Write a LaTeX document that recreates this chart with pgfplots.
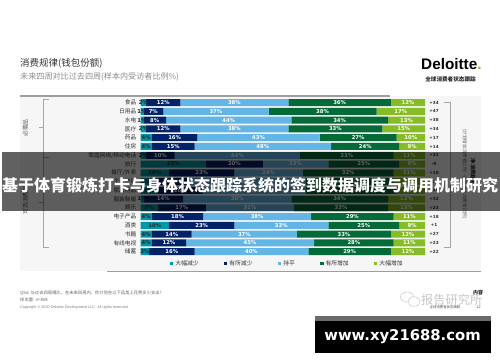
\documentclass[border=0pt]{standalone}
\usepackage{fontspec}
\usepackage{pgfplots}
\usepackage{pgfplotstable}
\pgfplotsset{compat=1.18}
\setmainfont{Noto Sans CJK SC}
\newfontfamily\num{DejaVu Sans}
\newfontfamily\lib{Liberation Sans}
\definecolor{c1}{HTML}{0097A9}
\definecolor{c2}{HTML}{012169}
\definecolor{c3}{HTML}{62B5E5}
\definecolor{c4}{HTML}{046A38}
\definecolor{c5}{HTML}{86BC25}
\definecolor{panel}{HTML}{F6F6F6}
\newcommand{\fs}[1]{\fontsize{#1}{#1}\selectfont}
\pgfplotstableread{
row a b c d e
0 2 12 38 36 12
1 1 7 37 38 17
2 1 8 44 34 13
3 2 12 38 33 15
4 4 16 43 27 10
5 4 15 48 24 9
6 2 10 44 33 11
7 23 20 23 25 9
8 10 23 24 32 11
9 3 14 41 31 11
10 6 16 36 32 10
11 1 14 38 34 13
12 6 17 31 33 13
13 4 18 38 29 11
14 10 23 33 25 9
15 4 14 37 33 12
16 4 12 45 28 11
17 3 16 40 29 12
}\datatable
\begin{document}
\begin{tikzpicture}[x=1pt,y=1pt]
\path[use as bounding box,fill=white] (0,0) rectangle (500,362);
% panel
\fill[panel] (19.5,91) rectangle (481,266);
\fill[gray!75] (19.5,265.2) rectangle (390,266.6);
\fill[gray!75] (107,90) rectangle (481,91.2);
% titles
\node[anchor=west,inner sep=0,text=black!80] at (20,298.5) {\fs{9.5}消费规律(钱包份额)};
\node[anchor=west,inner sep=0,text=black!45] at (20,285) {\fs{8.1}未来四周对比过去四周(样本内受访者比例\%)};
\node[anchor=west,inner sep=0] at (421,298) {\lib\bfseries\fs{15.3}Deloitte\textcolor{c5}{.}};
\node[anchor=center,inner sep=0,text=black!85] at (450.5,283) {\bfseries\fs{5.6}全球消费者状态跟踪};
% brackets
\draw[gray!70,line width=0.6pt] (49,262.7) -- (43.7,262.7) -- (43.7,205) -- (49,205);
\draw[gray!70,line width=0.6pt] (43.7,234.3) -- (38.7,234.3);
\draw[gray!70,line width=0.6pt] (43.7,205) -- (43.7,115) -- (49,115);
\draw[gray!70,line width=0.6pt] (43.7,159.3) -- (38.7,159.3);
\node[rotate=90,inner sep=0,text=black!65] at (25.5,234) {\fs{5.8}必需品};
\node[rotate=90,inner sep=0,text=black!65] at (25.5,162) {\fs{5.8}可选消费品};
\draw[gray!70,line width=0.6pt] (444,259.7) -- (450,259.7) -- (450,115) -- (444,115);
\node[rotate=-90,inner sep=0,text=black!85] at (473,190) {\bfseries\fs{5.2}净消费趋势};
\node[rotate=-90,inner sep=0,text=black!60] at (464.5,188) {\fs{4.6}(计划增加消费者比例 - 计划减少消费者比例)};
% chart
\begin{axis}[
  at={(140.5pt,106pt)},anchor=south west,scale only axis,
  width=284.5pt,height=157.7pt,
  xbar stacked,bar width=7pt,
  xmin=0,xmax=100,ymin=-0.5,ymax=17.5,y dir=reverse,
  axis line style={draw=none},major tick length=0pt,
  xtick=\empty,ytick={0,...,17},
  yticklabels={食品,日用品,水电,医疗,药品,住房,家庭网络/移动电话,旅行,餐厅/外卖,个人护理,家居用品,服装鞋履,娱乐,电子产品,酒类,书籍,有线电视,储蓄},
  yticklabel style={font=\fs{5.7},text=black!80,inner sep=0pt,xshift=-4pt},
  every axis plot/.append style={draw=none},
  /pgf/number format/assume math mode=true,
  nodes near coords={\pgfmathprintnumber{\pgfplotspointmeta}\%},
  every node near coord/.append style={font=\num\bfseries\fs{5.3},text=white,inner sep=0pt},
  legend style={at={(0.104,-0.0476)},anchor=west,draw=none,fill=none,inner sep=0pt,
    font=\fs{5.8},text=black!80,legend columns=5,
    /tikz/every even column/.append style={column sep=23.5pt}},
  legend cell align=left,
  legend image code/.code={\fill[#1] (0pt,-1.5pt) rectangle (3.2pt,1.7pt);},
]
\addplot[fill=c1,every node near coord/.append style={text=black!85}] table[x=a,y=row]{\datatable};
\addplot[fill=c2] table[x=b,y=row]{\datatable};
\addplot[fill=c3] table[x=c,y=row]{\datatable};
\addplot[fill=c4] table[x=d,y=row]{\datatable};
\addplot[fill=c5] table[x=e,y=row]{\datatable};
\legend{大幅减少,有所减少,持平,有所增加,大幅增加}
\end{axis}
% net values on a second axis
\begin{axis}[
  at={(140.5pt,106pt)},anchor=south west,scale only axis,
  width=284.5pt,height=157.7pt,
  xmin=0,xmax=100,ymin=-0.5,ymax=17.5,y dir=reverse,
  axis line style={draw=none},major tick length=0pt,
  xtick=\empty,ytick={0,...,17},ymajorticks=true,
  yticklabel pos=right,
  yticklabels={+34,+47,+38,+34,+17,+14,+32,-9,+10,+25,+20,+32,+23,+18,+1,+27,+23,+22},
  yticklabel style={font=\num\bfseries\fs{4.2},text=black!80,inner sep=0pt,anchor=center,xshift=9pt},
]
\end{axis}
% footer
\node[anchor=west,inner sep=0,text=black!60] at (20,69.3) {\fs{4.3}Q9a: 与过去四周相比，在未来四周内，你计划在以下品类上花费多少支出?};
\node[anchor=west,inner sep=0,text=black!60] at (20,62) {\fs{4.3}样本量: n=808};
\node[anchor=west,inner sep=0,text=black!50] at (20,54.7) {\lib\fs{3.8}Copyright © 2020 Deloitte Development LLC. All rights reserved.};
% watermark
\draw[black!20,line width=0.6pt] (407,65) ellipse (6.5 and 5);
\draw[black!20,line width=0.6pt,fill=white] (414,60.5) ellipse (6 and 4.8);
\node[anchor=west,inner sep=0,text=black!22] at (421,62) {\fs{12.2}报告研究所};
\node[anchor=center,inner sep=0,text=black!85] at (478,69) {\bfseries\fs{5}内容};
\node[anchor=center,inner sep=0,text=black!70] at (445,55) {\fs{3.4}全球消费者状态跟踪};
\node[anchor=center,inner sep=0,text=black!70] at (478.5,55) {\num\fs{3.4}12};
% url box
\fill[black] (315,9.3) rectangle (490.7,46);
\fill[black!58] (315,41) rectangle (490.7,46);
\node[inner sep=0,text=white] at (402.5,25.5) {\num\bfseries\fs{14.8}www.xy21688.com};
% banner
\fill[black,opacity=0.62] (2,151) rectangle (500,210);
\node[inner sep=0,text=white] at (250,177) {\bfseries\fs{16}基于体育锻炼打卡与身体状态跟踪系统的签到数据调度与调用机制研究};
\end{tikzpicture}
\end{document}
